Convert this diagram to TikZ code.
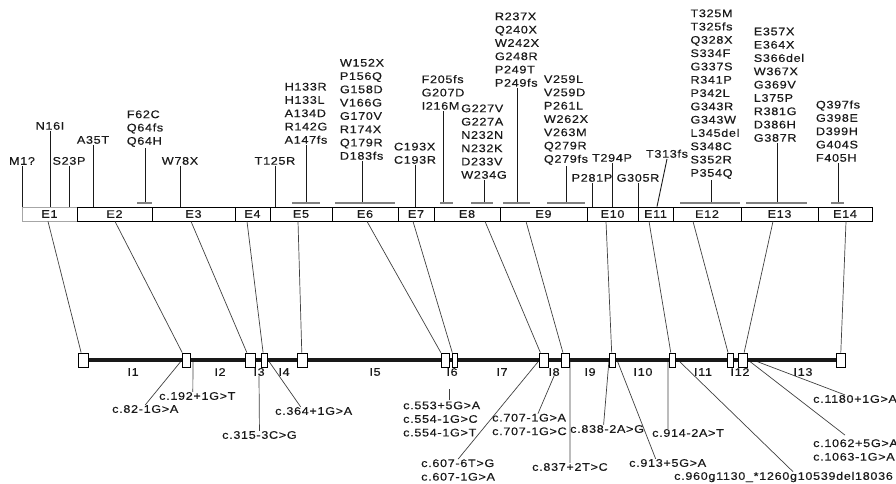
\documentclass[tikz,border=0pt]{standalone}
\usepackage{fontspec}
\setmainfont{Liberation Sans}[FakeStretch=1.15]
\newfontfamily\mutfont{Liberation Sans}[FakeStretch=1.15,LetterSpace=6,FakeBold=0.4]
\usetikzlibrary{backgrounds}

\definecolor{ink}{HTML}{1A1A1A}
\definecolor{leadgray}{HTML}{404040}

\tikzset{
  exon/.style={draw=black, line width=0.8pt, minimum height=14pt, inner sep=0pt,
    text=ink, font=\mutfont\fontsize{11}{13}\selectfont},
  ebox/.style={draw=black, fill=white, line width=0.8pt, minimum height=14pt, inner sep=0pt},
  mut/.style={anchor=south, align=left, inner xsep=0pt, inner ysep=1pt, text=ink,
    font=\mutfont\fontsize{11}{13.3}\selectfont},
  splice/.style={anchor=west, align=left, inner sep=0pt, text=ink,
    font=\mutfont\fontsize{11}{13.6}\selectfont},
  intron/.style={inner sep=0pt, text=ink, font=\mutfont\fontsize{11}{13}\selectfont},
  tick/.style={draw=ink, line width=0.9pt},
  bracket/.style={draw=gray, line width=1.1pt},
  link/.style={draw=leadgray, line width=0.7pt},
  geneline/.style={draw=black!90, line width=4pt},
}

\begin{document}
\begin{tikzpicture}[x=1pt,y=-1pt]
\useasboundingbox (0,0) rectangle (896,483);

% exons
\node[exon, draw=gray!70, minimum width=55pt] (e1) at (49.5,214) {E1};
\node[exon, minimum width=75pt] (e2) at (114.5,214) {E2};
\node[exon, minimum width=83pt] (e3) at (193.5,214) {E3};
\node[exon, minimum width=35pt] (e4) at (252.5,214) {E4};
\node[exon, minimum width=62pt] (e5) at (301,214) {E5};
\node[exon, minimum width=66pt] (e6) at (365,214) {E6};
\node[exon, minimum width=36pt] (e7) at (416,214) {E7};
\node[exon, minimum width=66pt] (e8) at (467,214) {E8};
\node[exon, minimum width=87pt] (e9) at (543.5,214) {E9};
\node[exon, minimum width=51pt] (e10) at (612.5,214) {E10};
\node[exon, minimum width=35pt] (e11) at (655.5,214) {E11};
\node[exon, minimum width=68pt] (e12) at (707,214) {E12};
\node[exon, minimum width=77pt] (e13) at (779.5,214) {E13};
\node[exon, minimum width=54pt] (e14) at (845,214) {E14};
\coordinate (brk) at (0,203);

% mutations
\node[mut] (m1) at (22,166) {M1?};
\node[mut] (m2) at (50,131) {N16I};
\node[mut] (m3) at (69,166) {S23P};
\node[mut] (m4) at (93,145) {A35T};
\node[mut] (m5) at (145,148) {F62C\\Q64fs\\Q64H};
\node[mut] (m6) at (180,166) {W78X};
\node[mut] (m7) at (275,166) {T125R};
\node[mut] (m8) at (306,145) {H133R\\H133L\\A134D\\R142G\\A147fs};
\node[mut] (m9) at (362,161) {W152X\\P156Q\\G158D\\V166G\\G170V\\R174X\\Q179R\\D183fs};
\node[mut] (m10) at (415,165) {C193X\\C193R};
\node[mut] (m11) at (443,111) {F205fs\\G207D\\I216M};
\node[mut] (m12) at (484,180) {G227V\\G227A\\N232N\\N232K\\D233V\\W234G};
\node[mut] (m13) at (517,88) {R237X\\Q240X\\W242X\\G248R\\P249T\\P249fs};
\node[mut] (m14) at (566,166) {V259L\\V259D\\P261L\\W262X\\V263M\\Q279R\\Q279fs};
\node[mut] (m15) at (592,183) {P281P};
\node[mut] (m16) at (612,163) {T294P};
\node[mut] (m17) at (638,183) {G305R};
\node[mut] (m18) at (667,159) {T313fs};
\node[mut] (m19) at (715,180) {T325M\\T325fs\\Q328X\\S334F\\G337S\\R341P\\P342L\\G343R\\G343W\\L345del\\S348C\\S352R\\P354Q};
\node[mut] (m20) at (779,143) {E357X\\E364X\\S366del\\W367X\\G369V\\L375P\\R381G\\D386H\\G387R};
\node[mut] (m21) at (838,163) {Q397fs\\G398E\\D399H\\G404S\\F405H};

\draw[tick] (m1.south) -- (m1.south |- e1.north);
\draw[tick] (m2.south) -- (m2.south |- e1.north);
\draw[tick] (m3.south) -- (m3.south |- e1.north);
\draw[tick] (m4.south) -- (m4.south |- e2.north);
\draw[tick] (m5.south) -- (m5.south |- brk);
\draw[tick] (m6.south) -- (m6.south |- e3.north);
\draw[tick] (m7.south) -- (m7.south |- e5.north);
\draw[tick] (m8.south) -- (m8.south |- brk);
\draw[tick] (m9.south) -- (m9.south |- brk);
\draw[tick] (m10.south) -- (m10.south |- e7.north);
\draw[tick] (m11.south) -- (m11.south |- brk);
\draw[tick] (m12.south) -- (m12.south |- brk);
\draw[tick] (m13.south) -- (m13.south |- brk);
\draw[tick] (m14.south) -- (m14.south |- brk);
\draw[tick] (m15.south) -- (m15.south |- e10.north);
\draw[tick] (m16.south) -- (m16.south |- e10.north);
\draw[tick] (m17.south) -- (m17.south |- e11.north);
\draw[tick] (m18.south) -- ([xshift=1.5pt]e11.north);
\draw[tick] ([xshift=-4pt]m19.south) -- ([xshift=-4pt]m19.south |- brk);
\draw[tick] ([xshift=-2pt]m20.south) -- ([xshift=-2pt]m20.south |- brk);
\draw[tick] (m21.south) -- (m21.south |- brk);

% spans
\draw[bracket] (137,203) -- (152,203);
\draw[bracket] (292,203) -- (320,203);
\draw[bracket] (335,203) -- (395,203);
\draw[bracket] (440,203) -- (453,203);
\draw[bracket] (471,203) -- (493,203);
\draw[bracket] (503,203) -- (530,203);
\draw[bracket] (547,203) -- (585,203);
\draw[bracket] (680,203) -- (740,203);
\draw[bracket] (746,203) -- (807,203);
\draw[bracket] (831,203) -- (844,203);

% gene
\node[ebox, minimum width=10pt] (b1) at (83,360) {};
\node[ebox, minimum width=8pt] (b2) at (186,360) {};
\node[ebox, minimum width=10pt] (b3) at (250,360) {};
\node[ebox, minimum width=6pt] (b4) at (264,360) {};
\node[ebox, minimum width=10pt] (b5) at (302,360) {};
\node[ebox, minimum width=8pt] (b6) at (445,360) {};
\node[ebox, minimum width=5pt] (b7) at (454.5,360) {};
\node[ebox, minimum width=9pt] (b8) at (543.5,360) {};
\node[ebox, minimum width=8pt] (b9) at (565,360) {};
\node[ebox, minimum width=6pt] (b10) at (612,360) {};
\node[ebox, minimum width=6pt] (b11) at (672,360) {};
\node[ebox, minimum width=6pt] (b12) at (730,360) {};
\node[ebox, minimum width=9pt] (b13) at (742.5,360) {};
\node[ebox, minimum width=9pt] (b14) at (840.5,360) {};

\draw[link] ([xshift=-1.5pt]e1.south) -- (b1);
\draw[link] ([xshift=0.5pt]e2.south) -- (b2);
\draw[link] ([xshift=-2.5pt]e3.south) -- (b3);
\draw[link] ([xshift=-5.5pt]e4.south) -- (b4);
\draw[link] ([xshift=-3pt]e5.south) -- (b5);
\draw[link] ([xshift=2pt]e6.south) -- (b6);
\draw[link] ([xshift=-3pt]e7.south) -- (b7);
\draw[link] ([xshift=18pt]e8.south) -- (b8);
\draw[link] ([xshift=-17.5pt]e9.south) -- (b9);
\draw[link] ([xshift=-6.5pt]e10.south) -- (b10);
\draw[link] ([xshift=-6.5pt]e11.south) -- (b11);
\draw[link] ([xshift=-14pt]e12.south) -- (b12);
\draw[link] ([xshift=-6.5pt]e13.south) -- (b13);
\draw[link] ([xshift=1pt]e14.south) -- (b14);

% introns
\node[intron] (i1) at (133,372) {I1};
\node[intron] (i2) at (220,372) {I2};
\node[intron] (i3) at (259,372) {I3};
\node[intron] (i4) at (284,372) {I4};
\node[intron] (i5) at (375,372) {I5};
\node[intron] (i6) at (452,372) {I6};
\node[intron] (i7) at (502,372) {I7};
\node[intron] (i8) at (554,372) {I8};
\node[intron] (i9) at (590,372) {I9};
\node[intron] (i10) at (643,372) {I10};
\node[intron] (i11) at (703,372) {I11};
\node[intron] (i12) at (740,372) {I12};
\node[intron] (i13) at (803,372) {I13};

% splice site changes
\node[splice] (s1) at (159,396) {c.192+1G>T};
\node[splice] (s2) at (112,409) {c.82-1G>A};
\node[splice] (s3) at (222,435) {c.315-3C>G};
\node[splice] (s4) at (275,411) {c.364+1G>A};
\node[splice] (s5) at (403,419) {c.553+5G>A\\c.554-1G>C\\c.554-1G>T};
\node[splice] (s6) at (421,470) {c.607-6T>G\\c.607-1G>A};
\node[splice] (s7) at (492,424.5) {c.707-1G>A\\c.707-1G>C};
\node[splice] (s8) at (532,467) {c.837+2T>C};
\node[splice] (s9) at (570,429) {c.838-2A>G};
\node[splice] (s10) at (629,463) {c.913+5G>A};
\node[splice] (s11) at (652,433) {c.914-2A>T};
\node[splice] (s12) at (674,477) {c.960g1130\_*1260g10539del18036};
\node[splice] (s13) at (813,399) {c.1180+1G>A};
\node[splice] (s14) at (813,450) {c.1062+5G>A\\c.1063-1G>A};

\begin{pgfonlayer}{background}
\draw[link] ([xshift=7pt]b2.center) -- ([xshift=-4.5pt]s1.north);
\draw[link] ([xshift=-4pt]b2.center) -- (s2.north);
\draw[link] (i3.south) -- (s3.north);
\draw[link] ([xshift=4pt]b4.center) -- ([xshift=-13pt]s4.north);
\draw[link] ([xshift=8pt,yshift=1pt]s5.north) -- ++(0,-11);
\draw[link] ([xshift=-4pt]b8.center) -- (s6.north);
\draw[link] (i8.south) -- ([xshift=8.5pt]s7.north);
\draw[link] ([xshift=5pt]b9.center) -- (s8.north);
\draw[link] ([xshift=-3pt]b10.center) -- ([xshift=-3.5pt]s9.north);
\draw[link] ([xshift=5pt]b10.center) -- ([xshift=-12pt]s10.north);
\draw[link] ([xshift=-4pt]b11.center) -- ([xshift=-20pt]s11.north);
\draw[link] ([xshift=6pt]b11.center) -- ([xshift=119pt]s12.north west);
\draw[link] ([xshift=10.5pt]b13.center) -- ([xshift=32pt]s13.north west);
\draw[link] ([xshift=5.5pt]b13.center) -- ([xshift=32pt,yshift=4pt]s14.north west);
\draw[geneline] (b1.center) -- (b14.center);
\end{pgfonlayer}
\end{tikzpicture}
\end{document}
